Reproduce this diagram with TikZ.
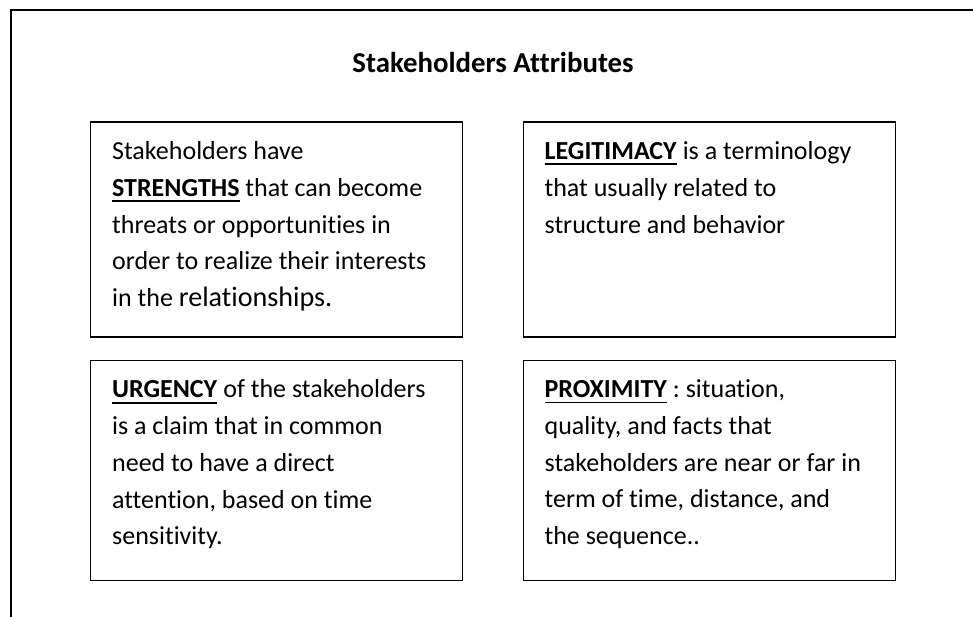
\documentclass[tikz,border=0pt]{standalone}
\usepackage{fontspec}
\setmainfont{Carlito}[Ligatures=NoCommon]
\usepackage{tikz}
\usetikzlibrary{positioning}
\frenchspacing

\newsavebox{\termbox}
\newcommand{\attrterm}[1]{\sbox{\termbox}{\textbf{#1}}\usebox{\termbox}\llap{\rule[-4pt]{\wd\termbox}{1.3pt}}}

\begin{document}
\begin{tikzpicture}
\tikzstyle{every node}=[font=\fontsize{18.5}{26.1}\selectfont]
\tikzstyle{attrbox}=[draw, line width=0.9pt, minimum width=9.3cm, inner sep=0pt]
\tikzstyle{attrtext}=[anchor=north west, align=left, inner sep=0pt]
\useasboundingbox (0,0) rectangle (24.325,15.425);
% page frame, cut at the right and bottom
\draw [line width=1pt] (0.27,0) -- (0.27,15.175) -- (24.325,15.175);
\node [font=\fontsize{20.5}{26.1}\selectfont\bfseries] (title) at (12.325,13.85) {Stakeholders Attributes};
% the four boxes
\node [attrbox, minimum height=5.375cm] (strength) at (6.9125,9.6875) {};
\node [attrbox, minimum height=5.375cm, right=1.5cm of strength] (legit) {};
\node [attrbox, minimum height=5.5cm, below=0.55cm of strength] (urgency) {};
\node [attrbox, minimum height=5.5cm, below=0.55cm of legit] (proximity) {};
% their texts
\node [attrtext] (strengthtxt) at ([shift={(0.55,-0.5)}]strength.north west) {Stakeholders have\\
\attrterm{STRENGTHS} that can become\\
threats or opportunities in\\
order to realize their interests\\
in the {\fontsize{20}{26.1}\selectfont relationships.}};
\node [attrtext] (legittxt) at ([shift={(0.53,-0.5)}]legit.north west) {\attrterm{LEGITIMACY} is a terminology\\
that usually related to\\
structure and behavior};
\node [attrtext] (urgencytxt) at ([shift={(0.55,-0.5)}]urgency.north west) {\attrterm{URGENCY} of the stakeholders\\
is a claim that in common\\
need to have a direct\\
attention, based on time\\
sensitivity.};
\node [attrtext] (proximitytxt) at ([shift={(0.53,-0.5)}]proximity.north west) {\attrterm{PROXIMITY} : situation,\\
quality, and facts that\\
stakeholders are near or far in\\
term of time, distance, and\\
the sequence..};
\end{tikzpicture}
\end{document}
